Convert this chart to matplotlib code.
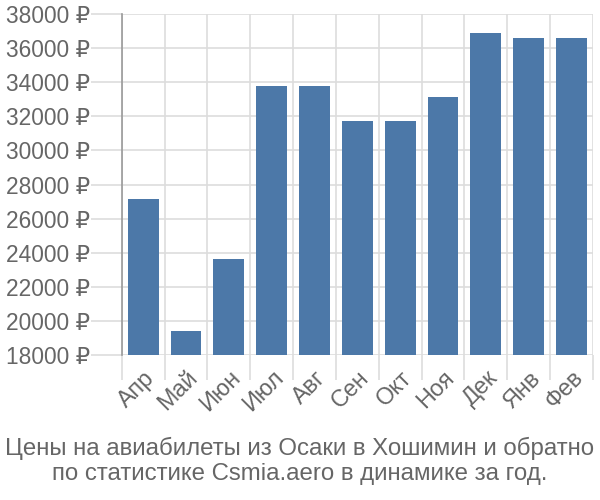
import numpy as np
import matplotlib
matplotlib.use("Agg")
import matplotlib.pyplot as plt

# monthly prices
months = ["Апр", "Май", "Июн", "Июл", "Авг", "Сен", "Окт", "Ноя", "Дек", "Янв", "Фев"]
prices = [27150, 19430, 23630, 33780, 33780, 31720, 31720, 33110, 36870, 36570, 36570]
yticks = list(range(18000, 38001, 2000))
title = "Цены на авиабилеты из Осаки в Хошимин и обратно\nпо статистике Csmia.aero в динамике за год."

plt.rcParams['font.family'] = ['Liberation Sans', 'DejaVu Sans']
grey = "#666666"

fig = plt.figure(figsize=(6, 5), dpi=100)
ax = fig.add_axes([0.203, 0.29, 0.785, 0.682])

x = np.arange(len(months))
ax.bar(x, prices, width=0.72, color="#4c78a8", zorder=3)

ax.set_xlim(-0.5, len(months) - 0.5)
ax.set_ylim(18000, 38000)

ax.set_yticks(yticks)
ax.set_yticklabels([f"{v} ₽" for v in yticks], color=grey, fontsize=16.4)
ax.tick_params(axis='y', length=22, color="#dddddd", width=1.2, pad=1)

ax.set_xticks(x)
ax.set_xticklabels(months, rotation=45, ha='right', rotation_mode='anchor',
                   color=grey, fontsize=16.8)
ax.tick_params(axis='x', which='major', length=0, pad=8)
ax.set_xticks(np.arange(-0.5, len(months)), minor=True)
ax.tick_params(axis='x', which='minor', length=18, color="#dddddd", width=1.2)

ax.grid(True, axis='y', color="#dddddd", lw=1.2, zorder=0)
ax.grid(True, axis='x', which='minor', color="#dddddd", lw=1.2, zorder=0)

for s in ['top', 'right', 'bottom']:
    ax.spines[s].set_visible(False)
ax.spines['left'].set_color("#999999")
ax.spines['left'].set_linewidth(1.2)

fig.text(0.5, 0.03, title, ha='center', va='bottom', color=grey,
         fontsize=17.3, linespacing=1.18)

fig.savefig("out.png", dpi=100)
